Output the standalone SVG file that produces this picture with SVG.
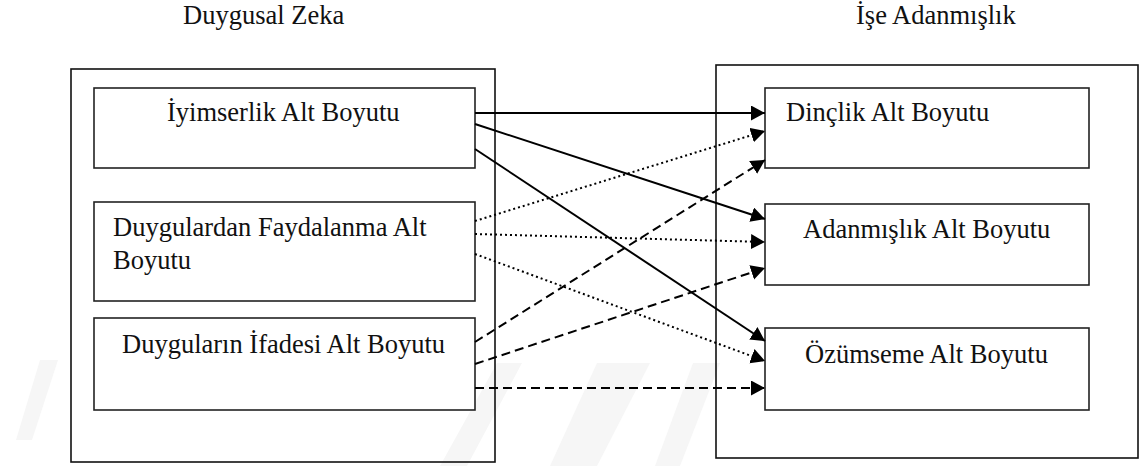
<svg xmlns="http://www.w3.org/2000/svg" width="1140" height="466" viewBox="0 0 1140 466">
<style>
.t{font-family:"Liberation Serif","Times New Roman",serif;font-size:26.5px;fill:#111}
.outer{fill:none;stroke:#111;stroke-width:1.6}
.box{fill:#fff;stroke:#222;stroke-width:1.6}
.c{fill:none;stroke:#000;stroke-width:2}
.dot{stroke-dasharray:2 3}
.dash{stroke-dasharray:9 5}
.wm{fill:#f6f6f6}
</style>
<defs>
<marker id="ah" markerUnits="userSpaceOnUse" markerWidth="15" markerHeight="16" refX="14" refY="7.5" orient="auto">
<path d="M0,0 L14,7.5 L0,15 z" fill="#000"/>
</marker>
</defs>
<rect width="1140" height="466" fill="#fff"/>
<g id="watermark">
<polygon class="wm" points="497,363 522,363 467,466 440,466"/>
<polygon class="wm" points="597,363 650,363 597,466 550,466"/>
<polygon class="wm" points="693,363 720,363 680,466 655,466"/>
<polygon class="wm" points="40,360 58,360 32,440 16,440"/>
</g>
<g id="titles">
<text class="t" x="183" y="24">Duygusal Zeka</text>
<text class="t" x="856" y="24">İşe Adanmışlık</text>
</g>
<g id="duygusal-zeka">
<rect class="outer" x="71" y="69" width="424" height="393"/>
</g>
<g id="ise-adanmislik">
<rect class="outer" x="716" y="65" width="422" height="393"/>
</g>
<g id="iyimserlik">
<rect class="box" x="94" y="88" width="381" height="80"/>
<text class="t" x="167" y="121">İyimserlik Alt Boyutu</text>
</g>
<g id="faydalanma">
<rect class="box" x="94" y="202" width="381" height="99"/>
<text class="t" x="113" y="236">Duygulardan Faydalanma Alt</text>
<text class="t" x="113" y="269">Boyutu</text>
</g>
<g id="ifade">
<rect class="box" x="94" y="318" width="381" height="92"/>
<text class="t" x="122" y="353">Duyguların İfadesi Alt Boyutu</text>
</g>
<g id="dinclik">
<rect class="box" x="765" y="88" width="324" height="80"/>
<text class="t" x="786" y="121">Dinçlik Alt Boyutu</text>
</g>
<g id="adanmislik">
<rect class="box" x="765" y="204" width="324" height="81"/>
<text class="t" x="803" y="238">Adanmışlık Alt Boyutu</text>
</g>
<g id="ozumseme">
<rect class="box" x="765" y="328" width="324" height="82"/>
<text class="t" x="805" y="363">Özümseme Alt Boyutu</text>
</g>
<g id="connectors">
<line class="c" x1="475" y1="113" x2="765" y2="113" marker-end="url(#ah)"/>
<line class="c" x1="475" y1="124" x2="765" y2="219" marker-end="url(#ah)"/>
<line class="c" x1="475" y1="149" x2="765" y2="341" marker-end="url(#ah)"/>
<line class="c dot" x1="475" y1="221" x2="765" y2="131" marker-end="url(#ah)"/>
<line class="c dot" x1="475" y1="234" x2="765" y2="242" marker-end="url(#ah)"/>
<line class="c dot" x1="475" y1="254" x2="765" y2="361" marker-end="url(#ah)"/>
<line class="c dash" x1="475" y1="342" x2="765" y2="160" marker-end="url(#ah)"/>
<line class="c dash" x1="475" y1="364" x2="765" y2="268" marker-end="url(#ah)"/>
<line class="c dash" x1="475" y1="388" x2="765" y2="388" marker-end="url(#ah)"/>
</g>
</svg>
